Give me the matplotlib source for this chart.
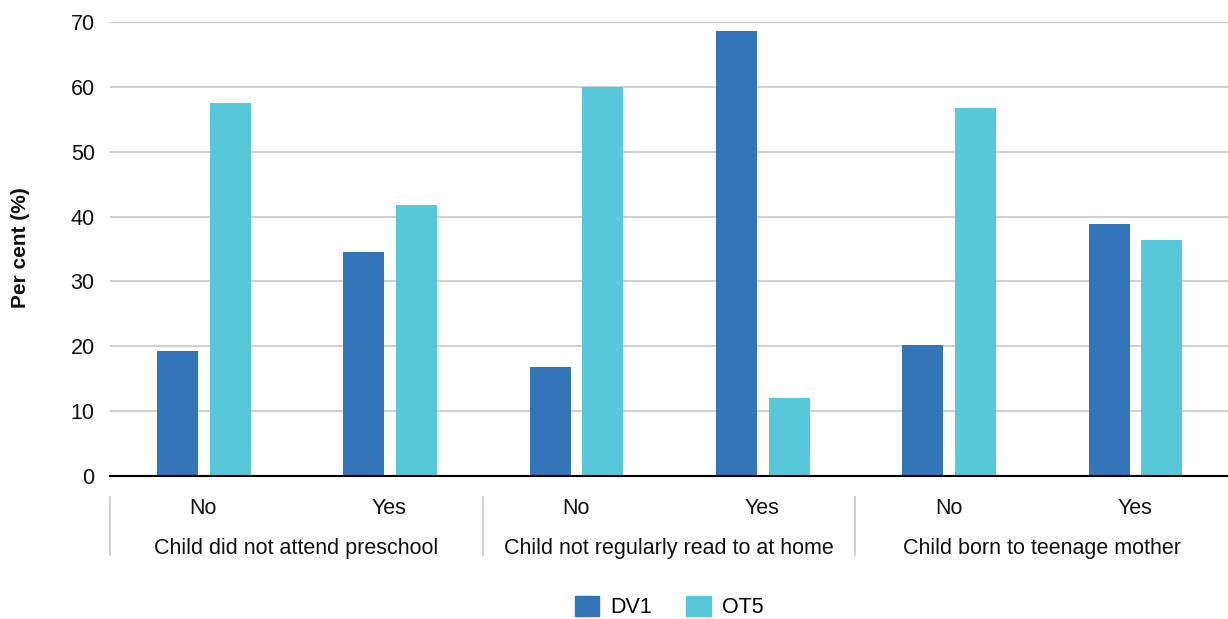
import numpy as np
import matplotlib
matplotlib.use("Agg")
import matplotlib.pyplot as plt
from matplotlib.patches import Patch

plt.rcParams['font.family'] = ['Liberation Sans', 'DejaVu Sans']

# datos
sub_labels = ["No", "Yes", "No", "Yes", "No", "Yes"]
group_labels = ["Child did not attend preschool",
                "Child not regularly read to at home",
                "Child born to teenage mother"]
dv1 = [19.3, 34.5, 16.8, 68.6, 20.2, 38.9]
ot5 = [57.5, 41.8, 60.0, 12.0, 56.7, 36.4]

c_dv1 = "#3275b9"
c_ot5 = "#57c7da"
fs = 15.5

fig = plt.figure(figsize=(12.28, 6.19), dpi=100)
ax = fig.add_axes([110 / 1228, 1 - 476 / 619, 1118 / 1228, 454 / 619])

x = np.arange(len(sub_labels))
w = 0.22
ax.bar(x - 0.138, dv1, width=w, color=c_dv1, zorder=3)
ax.bar(x + 0.145, ot5, width=w, color=c_ot5, zorder=3)

ax.set_xlim(-0.5, 5.5)
ax.set_ylim(0, 70)
ax.set_yticks(range(0, 71, 10))
ax.yaxis.grid(True, color="#d0d0d0", linewidth=1.5, zorder=0)
ax.set_axisbelow(True)
for s in ["top", "right", "left"]:
    ax.spines[s].set_visible(False)
ax.spines["bottom"].set_color("black")
ax.spines["bottom"].set_linewidth(1.5)
ax.spines["bottom"].set_zorder(4)
ax.tick_params(axis="y", length=0, pad=11, labelsize=fs, labelcolor="#111111")
ax.set_xticks([])

# etiquetas del eje x en dos niveles
tr = ax.get_xaxis_transform()
for i, lab in enumerate(sub_labels):
    ax.text(x[i], -0.0705, lab, transform=tr, ha="center", va="center",
            fontsize=fs, color="#111111")
for g, lab in enumerate(group_labels):
    ax.text(2 * g + 0.5, -0.1586, lab, transform=tr, ha="center", va="center",
            fontsize=fs, color="#111111")
for g in range(3):
    ax.plot([2 * g - 0.5, 2 * g - 0.5], [-0.046, -0.174], transform=tr,
            color="#c8c8c8", linewidth=1.2, clip_on=False)

fig.text(21 / 1228, 1 - 248 / 619, "Per cent (%)", rotation=90, ha="center",
         va="center", fontsize=15, fontweight="bold", color="#111111")

handles = [Patch(color=c_dv1, label="DV1"), Patch(color=c_ot5, label="OT5")]
ax.legend(handles=handles, loc="center", bbox_to_anchor=(0.5, -0.2885),
          ncol=2, frameon=False, fontsize=fs, handlelength=1.15,
          handleheight=1.05, handletextpad=0.5, columnspacing=1.6)

fig.savefig("out.png", dpi=100)
